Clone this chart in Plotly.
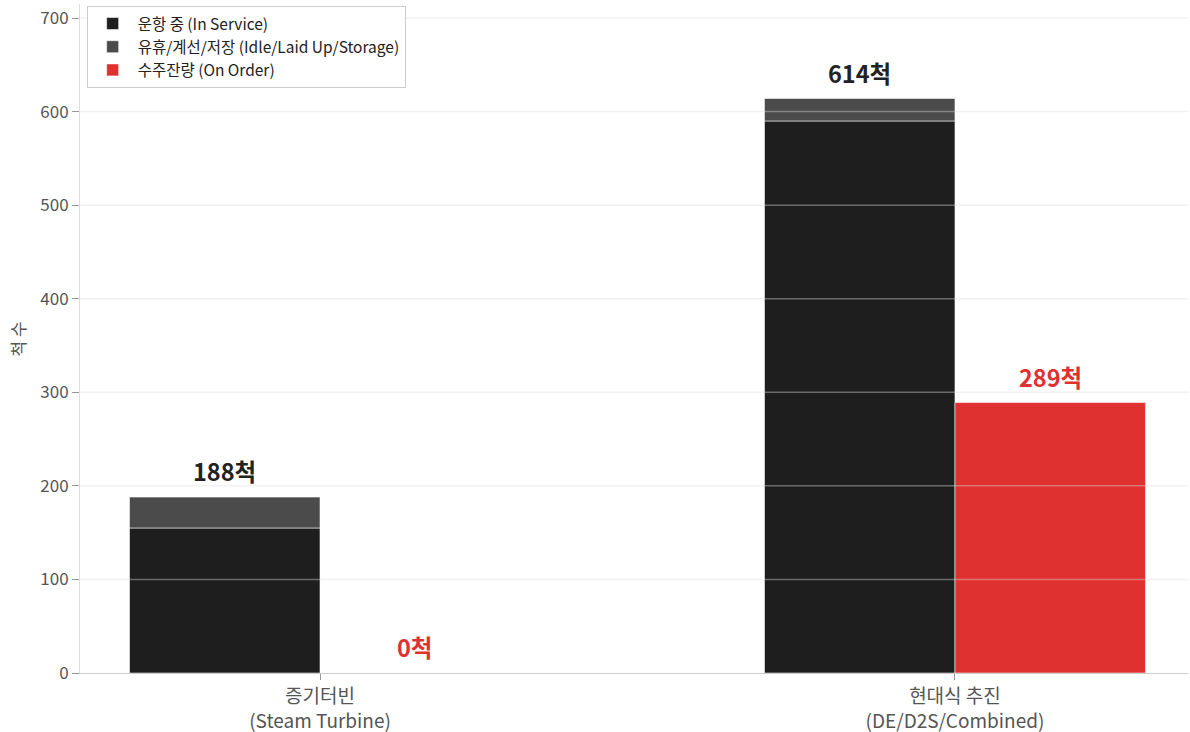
import plotly.graph_objects as go

categories = ["증기터빈<br>(Steam Turbine)", "현대식 추진<br>(DE/D2S/Combined)"]
in_service = [155, 590]
idle = [33, 24]
on_order = [0, 289]
y_ticks = [0, 100, 200, 300, 400, 500, 600, 700]

FONT = "Noto Sans CJK KR"
BLACK = "#1e1e1e"
GRAY = "#4b4b4b"
RED = "#e03131"
bw = 0.3
pos = list(range(len(categories)))
left_x = [p - bw / 2 for p in pos]
right_x = [p + bw / 2 for p in pos]
totals = [a + b for a, b in zip(in_service, idle)]

fig = go.Figure()
edge = dict(color="rgba(255,255,255,0.55)", width=1)
fig.add_trace(go.Bar(x=left_x, y=in_service, width=bw, name="운항 중 (In Service)",
                     marker=dict(color=BLACK, line=edge)))
fig.add_trace(go.Bar(x=left_x, y=idle, base=in_service, width=bw,
                     name="유휴/계선/저장 (Idle/Laid Up/Storage)",
                     marker=dict(color=GRAY, line=edge)))
fig.add_trace(go.Bar(x=right_x, y=on_order, width=bw, name="수주잔량 (On Order)",
                     marker=dict(color=RED, line=edge)))

# gridlines above bars
for t in y_ticks[1:]:
    fig.add_shape(type="line", xref="paper", x0=0, x1=1, yref="y", y0=t, y1=t,
                  line=dict(color="rgba(220,220,220,0.4)", width=1.5), layer="above")

for x, t in zip(left_x, totals):
    fig.add_annotation(x=x, y=t, text=f"<b>{t}척</b>", showarrow=False, yanchor="bottom",
                       yshift=7, font=dict(family=FONT, size=23.5, color="#222222"))
for x, t in zip(right_x, on_order):
    fig.add_annotation(x=x, y=t, text=f"<b>{t}척</b>", showarrow=False, yanchor="bottom",
                       yshift=7, font=dict(family=FONT, size=23.5, color=RED))

# y-axis title
fig.add_annotation(xref="paper", yref="paper", x=-0.056, y=0.5, text="척 수", textangle=-90,
                   showarrow=False, xanchor="center", yanchor="middle",
                   font=dict(family=FONT, size=17, color="#555555"))

fig.update_layout(
    width=1190, height=732,
    margin=dict(l=80, r=2, t=4, b=59),
    barmode="overlay",
    plot_bgcolor="white", paper_bgcolor="white",
    font=dict(family=FONT, color="#555555"),
    legend=dict(x=0.006, y=0.997, xanchor="left", yanchor="top", itemwidth=40,
                bordercolor="#cccccc", borderwidth=1, bgcolor="rgba(255,255,255,0.85)",
                font=dict(family=FONT, size=15.5, color="#222222")),
    xaxis=dict(range=[-0.378, 1.367], tickvals=pos, ticktext=categories, automargin=False,
               showgrid=False, zeroline=False, showline=True, linecolor="#cccccc",
               ticks="outside", ticklen=6, tickcolor="#999999",
               tickfont=dict(family=FONT, size=19, color="#555555")),
    yaxis=dict(range=[0, 715], tickvals=y_ticks, showgrid=False, zeroline=False, automargin=False,
               showline=True, linecolor="#dddddd", ticks="outside", ticklen=7,
               tickcolor="#999999", tickfont=dict(family=FONT, size=17, color="#555555")),
)

fig.write_html("out.html", config={"displayModeBar": False},
               post_script="document.body.style.margin='0';document.body.style.overflow='hidden';")
